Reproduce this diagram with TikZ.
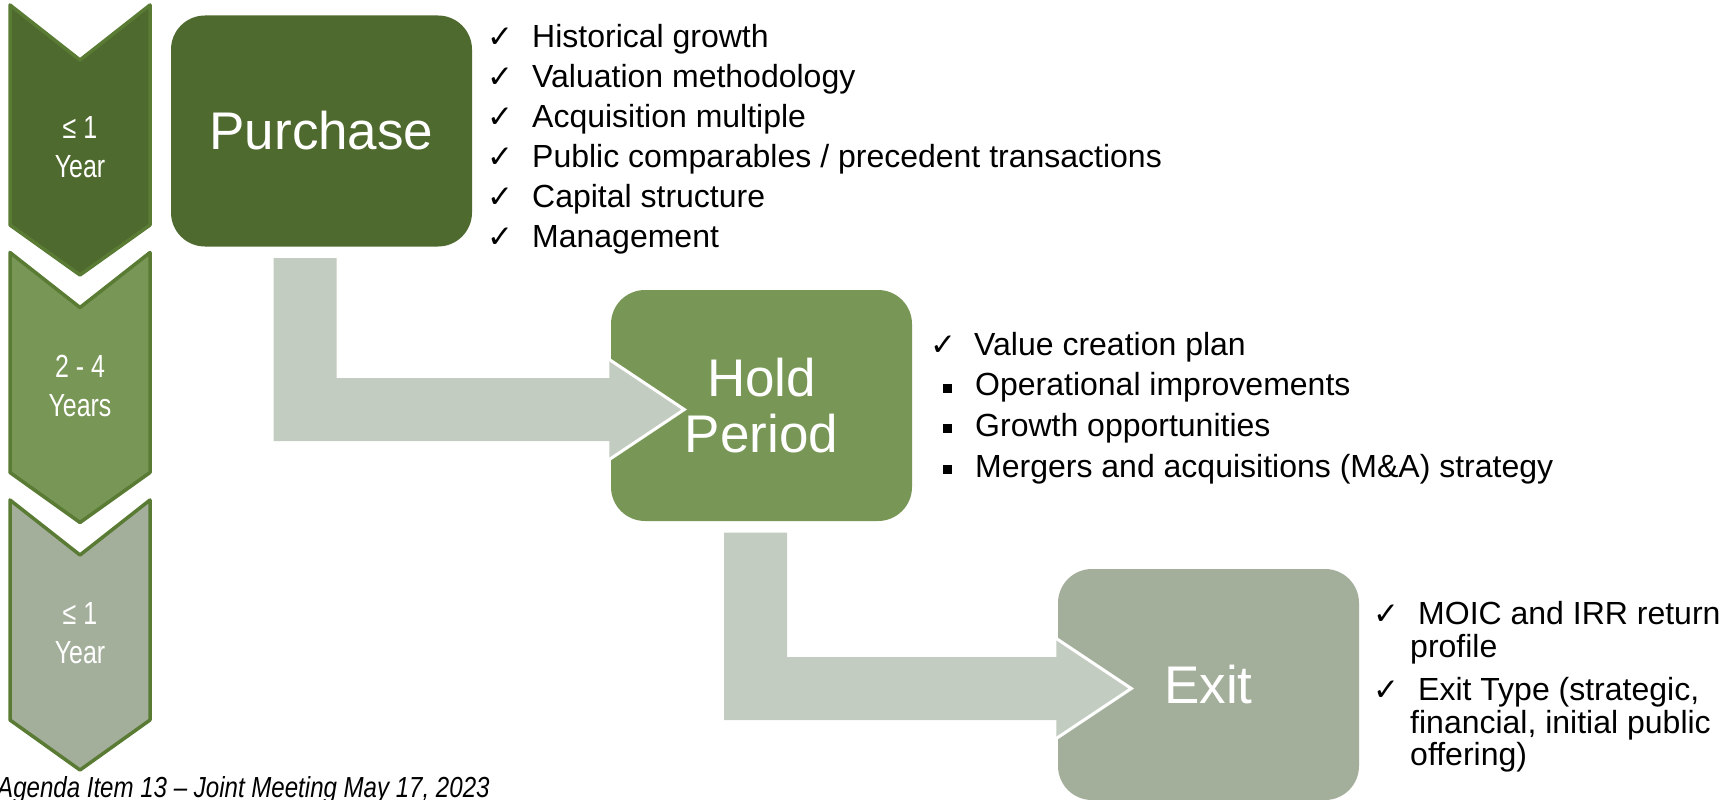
\documentclass[tikz,border=0pt]{standalone}
\usepackage{fontspec}
\setmainfont{Liberation Sans}
\newfontfamily\narrowfont[FakeStretch=0.78]{Liberation Sans}
\newfontfamily\footfont[FakeStretch=0.83]{Liberation Sans}
\newfontfamily\tickfont{DejaVu Sans}
\usetikzlibrary{calc}

\definecolor{buyGreen}{HTML}{4F6A2E}
\definecolor{holdGreen}{HTML}{789655}
\definecolor{exitGrey}{HTML}{A3AF9B}
\definecolor{rimGreen}{HTML}{5A7B34}
\definecolor{flowGrey}{HTML}{C3CCC0}

% bent block arrow: down out of #1, then right into #2 (#3 moves the stem sideways)
\newcommand\flowarrow[3]{%
\fill [flowGrey] let \p1=(#1.south), \p2=(#2.west) in
  ({\x1#3-31.5pt},{\y1-11.5pt}) -- ({\x1#3+31.5pt},{\y1-11.5pt})
  -- ({\x1#3+31.5pt},{\y2-4pt+31.5pt}) -- ({\x2-1.5pt},{\y2-4pt+31.5pt})
  -- ({\x2-1.5pt},{\y2-4pt+50pt}) -- ({\x2+73.5pt},{\y2-4pt}) -- ({\x2-1.5pt},{\y2-4pt-50pt})
  -- ({\x2-1.5pt},{\y2-4pt-31.5pt}) -- ({\x1#3-31.5pt},{\y2-4pt-31.5pt}) -- cycle;
\draw [white, line width=3pt] let \p2=(#2.west) in
  ({\x2-1.5pt},{\y2-4pt+50pt}) -- ({\x2+73.5pt},{\y2-4pt}) -- ({\x2-1.5pt},{\y2-4pt-50pt});
}

\tikzset{
  stage/.style={rounded corners=34pt, minimum width=301pt, minimum height=231pt,
    inner sep=0pt, text=white, align=center, font=\fontsize{53}{56}\selectfont},
  years/.style={inner sep=0pt, text=white, align=center,
    font=\narrowfont\fontsize{32}{39}\selectfont},
  item/.style={inner sep=0pt, anchor=base west, font=\fontsize{32}{38}\selectfont},
  tick/.style={inner sep=0pt, anchor=base west, font=\tickfont\fontsize{31}{36}\selectfont},
  square/.style={inner sep=0pt, fill=black, minimum size=9pt, anchor=south west}
}

\begin{document}
\begin{tikzpicture}[x=1pt,y=-1pt]
\useasboundingbox [fill=white] (0,0) rectangle (1732,800);

\foreach \c [count=\i from 0] in {buyGreen,holdGreen,exitGrey}
  \filldraw [fill=\c, draw=rimGreen, line width=3.5pt, line join=round]
    (10,{5+247.5*\i}) -- (80,{60+247.5*\i}) -- (150,{5+247.5*\i}) -- (150,{225+247.5*\i})
    -- (80,{275+247.5*\i}) -- (10,{225+247.5*\i}) -- cycle;
\node [years] (yr1) at (80,147) {≤ 1\\Year};
\node [years] (yr2) at (80,386) {2 - 4\\Years};
\node [years] (yr3) at (80,633) {≤ 1\\Year};

\node [stage, fill=buyGreen] (purchase) at (321.5,131) {Purchase};
\node [stage, fill=holdGreen] (hold) at (761.5,405.5) {Hold\\Period};
\node [stage, fill=exitGrey] (exit) at (1208.5,684.5) {Exit};

\flowarrow{purchase}{hold}{-16.5pt}
\flowarrow{hold}{exit}{-6pt}

\foreach \t [count=\i] in {Historical growth, Valuation methodology, Acquisition multiple,
    Public comparables / precedent transactions, Capital structure, Management} {
  \node [tick] (buytick\i) at (487,{7.5+40*\i}) {✓};
  \node [item] (buy\i) at (532,{7.5+40*\i}) {\t};
}

\node [tick] (holdtick) at (930,355) {✓};
\node [item] (hold1) at (974,355) {Value creation plan};
\foreach \t [count=\i from 2] in {Operational improvements, Growth opportunities,
    Mergers and acquisitions (M\&A) strategy} {
  \node [square] (holdsq\i) at (943,{352+40.7*(\i-1)}) {};
  \node [item] (hold\i) at (975,{355+40.7*(\i-1)}) {\t};
}

\node [tick] (exittick1) at (1373,624) {✓};
\node [item] (exit1) at (1418,624) {MOIC and IRR return};
\node [item] (exit2) at (1410,657) {profile};
\node [tick] (exittick2) at (1373,700) {✓};
\node [item] (exit3) at (1418,700) {Exit Type (strategic,};
\node [item] (exit4) at (1410,733) {financial, initial public};
\node [item] (exit5) at (1410,765) {offering)};

\node [inner sep=0pt, anchor=base west, font=\footfont\itshape\fontsize{29}{32}\selectfont]
  (footer) at (-3,797) {Agenda Item 13 – Joint Meeting May 17, 2023};
\end{tikzpicture}
\end{document}
